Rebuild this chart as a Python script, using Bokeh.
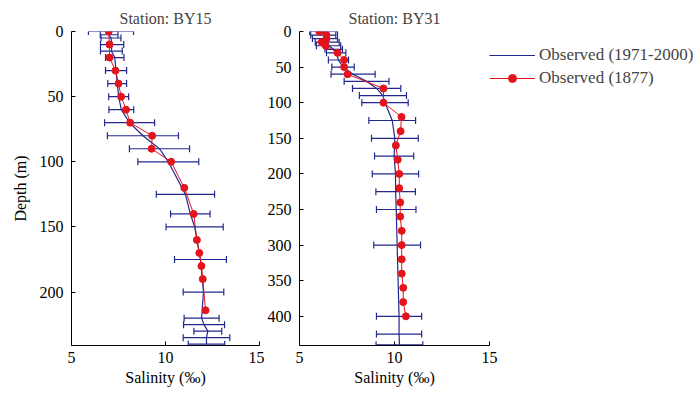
from bokeh.plotting import figure
from bokeh.layouts import row
from bokeh.models import (ColumnDataSource, Whisker, TeeHead, Range1d, FixedTicker,
                          Legend, LegendItem)
from bokeh.embed import file_html
from bokeh.resources import INLINE

# ---------------- data ----------------
by15_obs_depth = [0, 2.5, 5, 10, 15, 20, 30, 40, 50, 60, 70, 80, 90, 100, 125, 140, 150, 175, 200, 220, 225, 230, 235, 240]
by15_obs_mean = [7.10, 7.00, 7.10, 7.16, 7.12, 7.30, 7.37, 7.43, 7.51, 7.65, 8.09, 8.80, 9.68, 10.15, 11.06, 11.32, 11.55, 11.86, 12.02, 11.92, 12.05, 12.25, 12.18, 12.18]
by15_obs_sd = [1.20, 0.47, 0.53, 0.62, 0.58, 0.49, 0.56, 0.50, 0.53, 0.66, 1.33, 1.89, 1.60, 1.62, 1.55, 1.05, 1.52, 1.38, 1.08, 0.93, 1.09, 0.74, 1.24, 0.97]

by15_1877_depth = [0, 10, 20, 30, 40, 50, 60, 70, 80, 90, 100, 120, 140, 160, 170, 180, 190, 214]
by15_1877_sal = [6.98, 7.02, 7.02, 7.34, 7.50, 7.64, 7.90, 8.12, 9.29, 9.26, 10.30, 11.00, 11.50, 11.67, 11.80, 11.91, 11.98, 12.13]

by31_obs_depth = [0, 5, 10, 15, 20, 25, 30, 40, 50, 60, 70, 80, 90, 100, 125, 150, 175, 200, 225, 250, 300, 400, 425, 440]
by31_obs_mean = [6.27, 6.25, 6.34, 6.46, 6.53, 6.80, 6.93, 7.05, 7.29, 7.82, 8.53, 9.06, 9.39, 9.50, 9.88, 10.02, 9.98, 10.05, 10.06, 10.09, 10.14, 10.24, 10.24, 10.26]
by31_obs_sd = [0.73, 0.66, 0.66, 0.63, 0.64, 0.46, 0.51, 0.53, 0.59, 1.16, 1.18, 1.27, 1.24, 1.22, 1.23, 1.23, 1.03, 1.22, 1.04, 1.04, 1.23, 1.19, 1.19, 1.23]

by31_1877_depth = [0, 5, 10, 15, 20, 30, 40, 50, 60, 80, 100, 120, 140, 160, 180, 200, 220, 240, 260, 280, 300, 320, 340, 360, 380, 400]
by31_1877_sal = [6.04, 6.42, 6.42, 6.17, 6.38, 7.00, 7.35, 7.35, 7.53, 9.42, 9.42, 10.37, 10.32, 10.07, 10.17, 10.25, 10.25, 10.30, 10.30, 10.38, 10.38, 10.38, 10.38, 10.46, 10.46, 10.60]

x_ticks = [5, 10, 15]
by15_y_ticks = [0, 50, 100, 150, 200]
by31_y_ticks = [0, 50, 100, 150, 200, 250, 300, 350, 400]

titles = ["Station: BY15", "Station: BY31"]
legend_labels = ["Observed (1971-2000)", "Observed (1877)"]

BLUE = "#22288f"
RED = "#e3141c"
FONT = "Liberation Serif"
FS = "16px"


def style(p, yticks):
    p.outline_line_color = None
    p.xgrid.visible = False
    p.ygrid.visible = False
    p.title.text_font = FONT
    p.title.text_font_size = FS
    p.title.text_font_style = "normal"
    p.title.align = "center"
    p.xaxis.ticker = FixedTicker(ticks=x_ticks)
    p.yaxis.ticker = FixedTicker(ticks=yticks)
    for ax in (p.xaxis[0], p.yaxis[0]):
        ax.axis_line_color = "black"
        ax.major_tick_line_color = "black"
        ax.major_tick_in = 4
        ax.major_tick_out = 0
        ax.minor_tick_line_color = None
        ax.major_label_text_font = FONT
        ax.major_label_text_font_size = FS
        ax.major_label_text_color = "black"
        ax.axis_label_text_font = FONT
        ax.axis_label_text_font_size = FS
        ax.axis_label_text_font_style = "normal"
        ax.axis_label_text_color = "black"
    p.xaxis.major_label_standoff = 6
    p.yaxis.major_label_standoff = 8
    p.xaxis.axis_label_standoff = 3
    p.yaxis.axis_label_standoff = 8


def panel(p, od, om, osd, rd, rs):
    src = ColumnDataSource(dict(d=od, m=om,
                                lo=[m - s for m, s in zip(om, osd)],
                                hi=[m + s for m, s in zip(om, osd)]))
    w = Whisker(source=src, base="d", lower="lo", upper="hi", dimension="width",
                line_color=BLUE, line_width=1.2,
                lower_head=TeeHead(size=7, line_color=BLUE, line_width=1.2),
                upper_head=TeeHead(size=7, line_color=BLUE, line_width=1.2))
    p.add_layout(w)
    bl = p.line("m", "d", source=src, line_color=BLUE, line_width=1.2)
    rsrc = ColumnDataSource(dict(d=rd, s=rs))
    rl = p.line("s", "d", source=rsrc, line_color=RED, line_width=1)
    rm = p.scatter("s", "d", source=rsrc, size=7, fill_color=RED, line_color=RED)
    return bl, rl, rm


p1 = figure(frame_width=188, frame_height=314, min_border_left=71, min_border_right=5,
            min_border_top=31, min_border_bottom=40,
            x_range=Range1d(5, 15), y_range=Range1d(241, 0),
            title=titles[0], x_axis_label="Salinity (‰)", y_axis_label="Depth (m)",
            toolbar_location=None, output_backend="svg")
style(p1, by15_y_ticks)
panel(p1, by15_obs_depth, by15_obs_mean, by15_obs_sd, by15_1877_depth, by15_1877_sal)

p2 = figure(frame_width=190, frame_height=314, min_border_left=33, min_border_right=5,
            min_border_top=31, min_border_bottom=40,
            x_range=Range1d(5, 15), y_range=Range1d(441, 0),
            title=titles[1], x_axis_label="Salinity (‰)",
            toolbar_location=None, output_backend="svg")
style(p2, by31_y_ticks)
bl, rl, rm = panel(p2, by31_obs_depth, by31_obs_mean, by31_obs_sd, by31_1877_depth, by31_1877_sal)

legend = Legend(items=[LegendItem(label=legend_labels[0], renderers=[bl]),
                       LegendItem(label=legend_labels[1], renderers=[rl, rm])],
                location=(0, 257), margin=0, padding=0, spacing=3,
                glyph_width=46, glyph_height=20, label_height=20, label_standoff=4,
                label_text_font=FONT, label_text_font_size="17px",
                border_line_color=None, background_fill_alpha=0)
p2.add_layout(legend, "right")

layout = row(p1, p2)
open("out.html", "w").write(file_html(layout, INLINE))
